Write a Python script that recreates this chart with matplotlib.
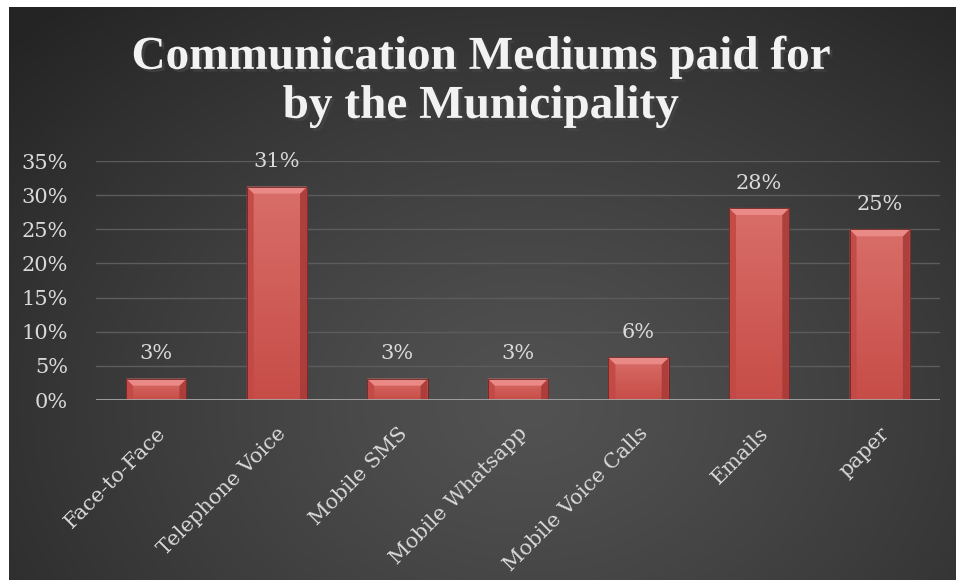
import numpy as np
import matplotlib
matplotlib.use("Agg")
import matplotlib.pyplot as plt
import matplotlib.patheffects as pe
from matplotlib.ticker import PercentFormatter

# share of respondents per communication medium (32 responses)
mediums = ["Face-to-Face", "Telephone Voice", "Mobile SMS", "Mobile Whatsapp",
           "Mobile Voice Calls", "Emails", "paper"]
shares = [1 / 32, 10 / 32, 1 / 32, 1 / 32, 2 / 32, 9 / 32, 8 / 32]
yticks = [0, 0.05, 0.10, 0.15, 0.20, 0.25, 0.30, 0.35]

TEXT = "#d9d9d9"
SERIF = ["DejaVu Serif"]

fig = plt.figure(figsize=(9.56, 5.80), dpi=100, facecolor="white")

# dark radial backdrop
bg = fig.add_axes([9 / 956, 0, 947 / 956, 573 / 580])
bg.set_axis_off()
yy, xx = np.mgrid[0:1:400j, 0:1:600j]
r = np.sqrt(((xx - 0.55) / 0.75) ** 2 + ((yy - 0.70) / 0.95) ** 2)
r = np.clip(r, 0, 1)
c0, c1 = 0x52 / 255, 0x24 / 255
shade = c0 + (c1 - c0) * r ** 1.2
bg.imshow(np.dstack([shade, shade, shade]), extent=[0, 1, 0, 1], origin="upper",
          aspect="auto", interpolation="bilinear")
bg.set_xlim(0, 1)
bg.set_ylim(0, 1)

ax = fig.add_axes([96 / 956, 1 - 400 / 580, 844 / 956, 239 / 580])
ax.patch.set_alpha(0)
ax.set_xlim(-0.5, len(mediums) - 0.5)
ax.set_ylim(0, 0.35)
x = np.arange(len(mediums))
bars = ax.bar(x, shares, width=0.5, color="#cc5450", edgecolor="#6e2422",
              linewidth=0.6, zorder=3)

# bevel sizes: roughly 7 px in both directions
bx = 7 * (len(mediums)) / 844
by = 7 * 0.35 / 239

grad_v = np.linspace(0, 1, 100)[:, None, None]
top_c = np.array([0.85, 0.43, 0.41])
bot_c = np.array([0.78, 0.30, 0.28])
for b in bars:
    x0, y0 = b.get_x(), b.get_y()
    w, h = b.get_width(), b.get_height()
    img = top_c + (bot_c - top_c) * grad_v
    img = np.repeat(img, 2, axis=1)
    im = ax.imshow(img, extent=[x0, x0 + w, y0, y0 + h], origin="upper",
                   aspect="auto", zorder=3.2, interpolation="bilinear")
    im.set_clip_path(b)
    t = y0 + h
    # top face of the bevel
    ax.fill([x0, x0 + w, x0 + w - bx, x0 + bx], [t, t, t - by, t - by],
            color="#ea8a86", zorder=3.5, lw=0)
    # side faces
    ax.fill([x0, x0 + bx, x0 + bx, x0], [t, t - by, y0, y0],
            color="#c24945", zorder=3.4, lw=0, alpha=0.9)
    ax.fill([x0 + w, x0 + w - bx, x0 + w - bx, x0 + w], [t, t - by, y0, y0],
            color="#a93b38", zorder=3.4, lw=0, alpha=0.9)
    ax.bar(b.get_x() + w / 2, h, width=w, fill=False, edgecolor="#6e2422",
           linewidth=0.6, zorder=3.6)
    ax.annotate(f"{h:.0%}", (x0 + w / 2, t), xytext=(0, 11),
                textcoords="offset points", ha="center", va="bottom",
                fontsize=15, color=TEXT, family=SERIF, zorder=5)

ax.set_yticks(yticks)
ax.yaxis.set_major_formatter(PercentFormatter(1.0, decimals=0))
ax.grid(axis="y", color="#5c5c5c", linewidth=1.0, zorder=0)
ax.axhline(0, color="#a6a6a6", linewidth=2, zorder=4)
for s in ax.spines.values():
    s.set_visible(False)
ax.tick_params(axis="both", length=0, colors=TEXT, labelsize=15)
ax.tick_params(axis="y", pad=20)
ax.tick_params(axis="x", pad=17)
ax.set_xticks(x)
ax.set_xticklabels(mediums, rotation=45, ha="right", rotation_mode="anchor",
                   family=SERIF)
for lab in ax.get_yticklabels():
    lab.set_family(SERIF)

title = fig.text(0.503, 0.858, "Communication Mediums paid for\nby the Municipality",
                 ha="center", va="center", fontsize=34, fontweight="bold",
                 color="#f2f2f2", family=["Liberation Serif"], linespacing=1.22)
title.set_path_effects([pe.withSimplePatchShadow(offset=(2, -2), alpha=0.6)])

fig.savefig("out.png", dpi=100, facecolor="white")
